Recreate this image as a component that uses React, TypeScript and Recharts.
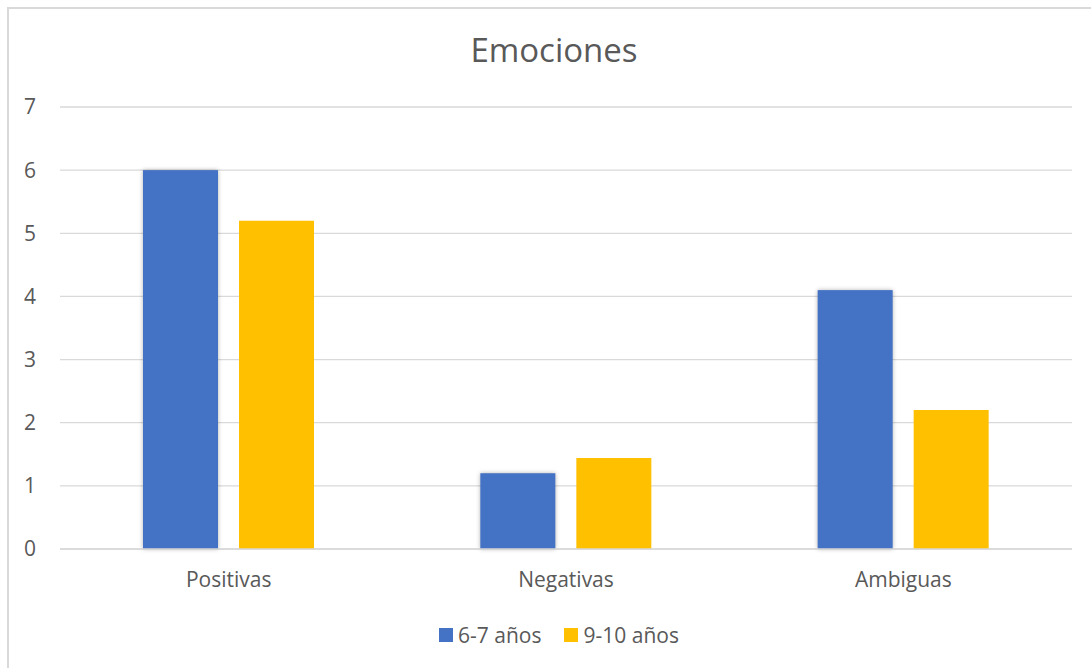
import { BarChart, Bar, XAxis, YAxis, CartesianGrid, Legend } from "recharts";

const categories = ["Positivas", "Negativas", "Ambiguas"];
const edad67 = [6, 1.2, 4.1];
const edad910 = [5.2, 1.44, 2.2];
const yTicks = [0, 1, 2, 3, 4, 5, 6, 7];

const data = categories.map((name, i) => ({
  name,
  edad67: edad67[i],
  edad910: edad910[i],
}));

const FONT = "'Open Sans', sans-serif";
const TEXT = "#595959";
const GRID = "#d9d9d9";

const ShadowBar = (props: any) => {
  const { x, y, width, height, fill } = props;
  return (
    <rect
      x={x}
      y={y}
      width={width}
      height={height}
      fill={fill}
      style={{ filter: "drop-shadow(0 0 2px rgba(0,0,0,0.3))" }}
    />
  );
};

const LegendContent = ({ payload }: any) => (
  <div style={{ height: 30, display: "flex", justifyContent: "center", alignItems: "center", paddingLeft: 46 }}>
    {(payload || []).map((p: any, i: number) => (
      <div key={p.value} style={{ display: "flex", alignItems: "center", marginLeft: i ? 23 : 0 }}>
        <span style={{ width: 14, height: 14, background: p.color, display: "inline-block", marginRight: 5 }} />
        <span style={{ fontFamily: FONT, fontSize: 21, color: TEXT }}>{p.value}</span>
      </div>
    ))}
  </div>
);

export default function App() {
  return (
    <div style={{ position: "absolute", left: 0, top: 0, width: 1091, height: 668, overflow: "hidden", background: "#fff" }}>
      <div
        style={{
          position: "absolute",
          left: 7,
          top: 7,
          width: 1120,
          height: 700,
          border: `2px solid ${GRID}`,
        }}
      />
      <div
        style={{
          position: "absolute",
          left: 0,
          top: 30,
          width: 1108,
          textAlign: "center",
          fontFamily: FONT,
          fontSize: 33,
          lineHeight: "40px",
          color: TEXT,
        }}
      >
        Emociones
      </div>
      <div style={{ position: "absolute", left: 0, top: 0 }}>
        <BarChart
          width={1091}
          height={668}
          data={data}
          margin={{ top: 107, right: 19, left: 0, bottom: 18 }}
          barSize={75}
          barGap={21}
        >
          <CartesianGrid vertical={false} stroke={GRID} strokeWidth={1.3} />
          <XAxis
            dataKey="name"
            height={71}
            tickLine={false}
            tickSize={0}
            tickMargin={23}
            axisLine={{ stroke: GRID, strokeWidth: 1.3 }}
            tick={{ fontFamily: FONT, fontSize: 21, fill: TEXT }}
          />
          <YAxis
            width={60}
            domain={[0, 7]}
            ticks={yTicks}
            axisLine={false}
            tickLine={false}
            tickSize={0}
            tickMargin={24}
            tick={{ fontFamily: FONT, fontSize: 21, fill: TEXT }}
          />
          <Legend verticalAlign="bottom" content={<LegendContent />} />
          <Bar dataKey="edad67" name="6-7 años" fill="#4472C4" shape={<ShadowBar />} isAnimationActive={false} />
          <Bar dataKey="edad910" name="9-10 años" fill="#FFC000" isAnimationActive={false} />
        </BarChart>
      </div>
    </div>
  );
}
